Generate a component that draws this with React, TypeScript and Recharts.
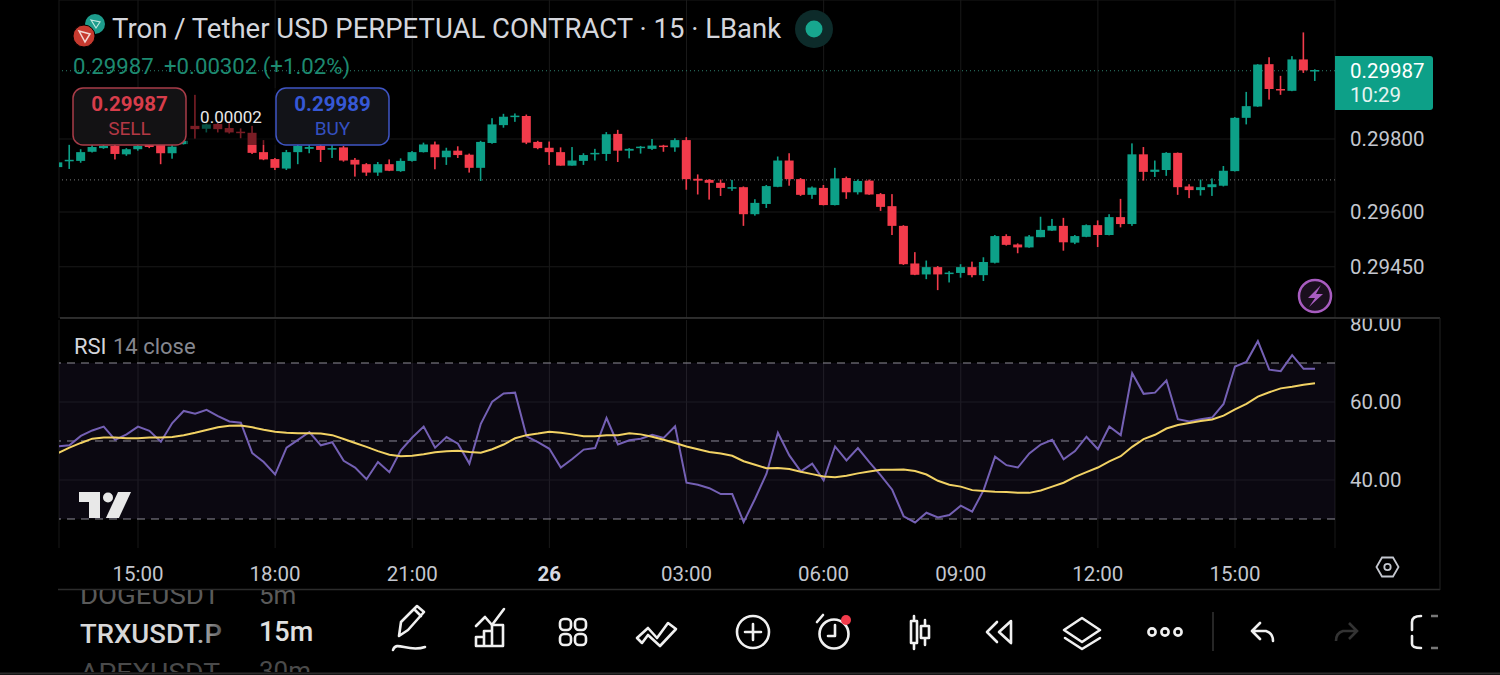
import { Bar, CartesianGrid, ComposedChart, Line, ReferenceArea, ReferenceLine, XAxis, YAxis } from "recharts";

// 15m TRXUSDT.P candles
const opens = [
  0.29723, 0.2974, 0.2974, 0.29765, 0.29775, 0.29781, 0.29758, 0.29772, 0.29784, 0.29784, 0.29761, 0.29786,
  0.29836, 0.29828, 0.29841, 0.2983, 0.2982, 0.29817, 0.29764, 0.29745, 0.29719, 0.29764, 0.29773, 0.29781,
  0.29773, 0.29777, 0.29743, 0.29731, 0.29708, 0.29731, 0.29712, 0.2974, 0.29764, 0.29785, 0.2975, 0.29768,
  0.29757, 0.29721, 0.29789, 0.29838, 0.29861, 0.29863, 0.29792, 0.29776, 0.29764, 0.29727, 0.2974, 0.29761,
  0.29759, 0.29814, 0.29768, 0.29777, 0.29773, 0.29782, 0.29777, 0.29797, 0.29691, 0.29688, 0.2968, 0.29666,
  0.29668, 0.29594, 0.29622, 0.29669, 0.29741, 0.2969, 0.29647, 0.29666, 0.29619, 0.29693, 0.29654, 0.29686,
  0.29649, 0.29616, 0.29562, 0.29459, 0.29429, 0.29449, 0.29431, 0.29433, 0.29449, 0.29427, 0.29461, 0.29534,
  0.29511, 0.29503, 0.29531, 0.29549, 0.29562, 0.29516, 0.29532, 0.29564, 0.29537, 0.29586, 0.29567, 0.29758,
  0.2971, 0.29715, 0.29762, 0.2967, 0.2966, 0.29668, 0.29672, 0.29712, 0.29858, 0.29889, 0.30005, 0.29937,
  0.29932, 0.30018, 0.29987,
];
const closes = [
  0.29736, 0.29743, 0.29764, 0.29778, 0.29781, 0.29759, 0.29772, 0.29781, 0.29778, 0.29761, 0.29779, 0.29795,
  0.29827, 0.2984, 0.29827, 0.29818, 0.29817, 0.29762, 0.29744, 0.29721, 0.29764, 0.29781, 0.29778, 0.2977,
  0.29775, 0.29741, 0.2973, 0.29708, 0.29731, 0.29713, 0.2974, 0.29764, 0.29785, 0.2975, 0.29768, 0.29756,
  0.29721, 0.29792, 0.2984, 0.29861, 0.29864, 0.2979, 0.29775, 0.29764, 0.29727, 0.29741, 0.29756, 0.29762,
  0.29813, 0.29768, 0.29773, 0.29779, 0.29782, 0.29778, 0.29797, 0.2969, 0.29686, 0.2968, 0.29666, 0.29668,
  0.29594, 0.29625, 0.29671, 0.29741, 0.2969, 0.29647, 0.29667, 0.29619, 0.29692, 0.29654, 0.29685, 0.29648,
  0.29614, 0.29562, 0.29457, 0.29428, 0.29449, 0.29429, 0.29434, 0.29449, 0.29427, 0.29463, 0.29534, 0.2951,
  0.29503, 0.29533, 0.29551, 0.29562, 0.29517, 0.29534, 0.29564, 0.29537, 0.29586, 0.29567, 0.29758, 0.2971,
  0.29716, 0.29762, 0.29668, 0.2966, 0.29668, 0.29676, 0.29713, 0.29858, 0.2989, 0.30004, 0.29937, 0.29933,
  0.30018, 0.29988, 0.29989,
];
const highs = [
  0.29742, 0.29784, 0.29772, 0.29784, 0.29786, 0.29784, 0.29775, 0.29784, 0.29789, 0.29786, 0.29784, 0.29798,
  0.29921, 0.29842, 0.29844, 0.29844, 0.29829, 0.29836, 0.29797, 0.29748, 0.2977, 0.29784, 0.29784, 0.29784,
  0.29784, 0.29781, 0.29748, 0.29734, 0.29737, 0.29744, 0.29747, 0.29767, 0.2979, 0.29793, 0.29776, 0.2978,
  0.2976, 0.29795, 0.29857, 0.29869, 0.2987, 0.29867, 0.29795, 0.29793, 0.29777, 0.29778, 0.29761, 0.29773,
  0.29819, 0.29825, 0.29775, 0.29781, 0.298, 0.29784, 0.29802, 0.29805, 0.29703, 0.2969, 0.29689, 0.29688,
  0.2967, 0.29635, 0.29674, 0.29752, 0.29761, 0.29693, 0.2967, 0.29674, 0.29721, 0.29697, 0.29689, 0.29689,
  0.29652, 0.29649, 0.29564, 0.2949, 0.29467, 0.29452, 0.29438, 0.29457, 0.29464, 0.29476, 0.29537, 0.29539,
  0.29514, 0.29537, 0.29587, 0.29581, 0.29584, 0.29537, 0.29566, 0.29577, 0.29594, 0.29636, 0.29788, 0.29778,
  0.29741, 0.29764, 0.29763, 0.29676, 0.29689, 0.29692, 0.29726, 0.2986, 0.29929, 0.30005, 0.30024, 0.29973,
  0.30027, 0.30092, 0.29991,
];
const lows = [
  0.29721, 0.29718, 0.29735, 0.29763, 0.29773, 0.29744, 0.29754, 0.29768, 0.29775, 0.29731, 0.29746, 0.29785,
  0.29801, 0.29818, 0.29818, 0.29815, 0.29802, 0.29759, 0.29742, 0.29715, 0.29715, 0.29731, 0.29761, 0.29737,
  0.29748, 0.29738, 0.29697, 0.29699, 0.29699, 0.29712, 0.2971, 0.29738, 0.29763, 0.29717, 0.29729, 0.29748,
  0.29708, 0.29685, 0.29787, 0.29831, 0.29847, 0.29786, 0.29772, 0.29729, 0.29727, 0.29727, 0.29729, 0.29741,
  0.2974, 0.29737, 0.29747, 0.2976, 0.2977, 0.29765, 0.29765, 0.29661, 0.29648, 0.29634, 0.29644, 0.29658,
  0.29562, 0.2959, 0.29611, 0.29668, 0.29672, 0.29644, 0.29636, 0.29618, 0.29618, 0.29636, 0.29648, 0.29647,
  0.29603, 0.29537, 0.29455, 0.29427, 0.29416, 0.29386, 0.29407, 0.2942, 0.29421, 0.29411, 0.29459, 0.29508,
  0.29487, 0.29502, 0.29531, 0.29548, 0.29494, 0.29512, 0.29531, 0.29504, 0.29536, 0.29558, 0.29562, 0.29686,
  0.29696, 0.29699, 0.29647, 0.29638, 0.29645, 0.29644, 0.2967, 0.29711, 0.2984, 0.29888, 0.29908, 0.29921,
  0.29931, 0.29981, 0.29959,
];
const rsi = [
  48.6, 48.9, 51.3, 52.7, 53.7, 50.3, 51.7, 53.7, 52.6, 49.8, 54.6, 57.7, 57.0, 58.0, 56.4, 55.0, 54.7, 46.9, 44.6,
  41.4, 48.3, 50.3, 52.3, 48.9, 49.7, 44.9, 43.2, 40.2, 44.6, 42.0, 47.6, 50.9, 53.7, 48.3, 51.0, 49.3, 44.2, 54.4,
  60.1, 62.2, 62.4, 51.2, 49.7, 48.0, 43.2, 45.4, 47.8, 48.2, 55.9, 49.1, 50.2, 50.6, 51.6, 50.8, 53.8, 39.3, 38.8,
  37.9, 36.4, 36.4, 29.2, 35.2, 41.6, 52.1, 46.3, 42.2, 44.2, 39.9, 48.6, 45.0, 48.2, 44.6, 41.2, 37.5, 30.7, 29.1,
  31.6, 30.4, 31.0, 33.4, 31.9, 37.4, 46.0, 43.8, 43.2, 46.8, 49.1, 50.3, 45.3, 47.4, 51.1, 47.9, 53.7, 51.5, 67.4,
  62.1, 62.4, 65.5, 55.6, 55.0, 55.6, 56.0, 59.5, 69.1, 70.3, 75.6, 68.3, 67.9, 72.0, 68.5, 68.5,
];
const rsiMa = [
  46.9, 48.3, 49.5, 50.6, 50.9, 50.9, 50.7, 50.7, 50.9, 50.9, 51.0, 51.5, 52.1, 52.8, 53.5, 53.9, 54.0, 53.5, 52.9,
  52.4, 52.1, 52.0, 52.0, 51.9, 51.5, 50.5, 49.5, 48.5, 47.4, 46.5, 46.1, 46.2, 46.6, 47.1, 47.4, 47.5, 47.2, 47.0,
  47.9, 49.1, 50.7, 51.5, 51.9, 52.4, 52.1, 51.7, 51.2, 51.2, 51.5, 51.5, 52.0, 51.7, 51.1, 50.3, 49.5, 48.6, 47.9,
  47.2, 46.8, 46.2, 44.8, 43.9, 43.0, 43.1, 42.8, 42.1, 41.5, 40.9, 40.7, 41.1, 41.7, 42.2, 42.6, 42.6, 42.7, 42.3,
  41.4, 39.8, 38.8, 38.3, 37.4, 37.2, 37.0, 36.9, 36.7, 36.7, 37.3, 38.3, 39.3, 40.8, 42.0, 43.2, 44.8, 46.1, 48.5,
  50.5, 51.6, 53.2, 54.1, 54.6, 55.1, 55.5, 56.5, 58.1, 59.5, 61.4, 62.5, 63.5, 63.9, 64.4, 64.8,
];

// bar index of every time label
const timeTicks = [7, 19, 31, 43, 55, 67, 79, 91, 103];
const timeLabels = ["15:00", "18:00", "21:00", "26", "03:00", "06:00", "09:00", "12:00", "15:00"];
const priceTicks = [0.298, 0.296, 0.2945];
const rsiTicks = [80, 60, 40];
const rsiGrid = [60, 40];
const rsiBands = [70, 50, 30];

const data = opens.map((open, i) => ({
  idx: i,
  open,
  close: closes[i],
  high: highs[i],
  low: lows[i],
  rsi: rsi[i],
  rsiMa: rsiMa[i],
}));

const UP = "#0da088";
const DOWN = "#f23b4b";
const GRID = "#191919";
const TEXT = "#c4c7cf";
const FONT = "Roboto, sans-serif";
const xDomain: [number, number] = [0.087, 111.75];

function Candle(props: any) {
  const { x, y, width, height, payload } = props;
  const { open, close, high, low } = payload;
  const top = Math.min(y, y + height);
  const perPrice = Math.abs(height) / (high - low);
  const bodyTop = top + (high - Math.max(open, close)) * perPrice;
  const bodyHeight = Math.max(Math.abs(open - close) * perPrice, 1.5);
  const color = close >= open ? UP : DOWN;
  return (
    <g>
      <rect x={x + width / 2 - 0.8} y={top} width={1.6} height={Math.abs(height)} fill={color} />
      <rect x={x} y={bodyTop} width={width} height={bodyHeight} fill={color} />
    </g>
  );
}

function TimeTick({ x, y, payload }: any) {
  const i = timeTicks.indexOf(payload.value);
  const label = timeLabels[i];
  return (
    <text x={x} y={y + 25} textAnchor="middle" fontFamily={FONT} fontSize={20.5} fill={label === "26" ? "#d8dae0" : TEXT} fontWeight={label === "26" ? 700 : 400}>
      {label}
    </text>
  );
}

function PriceChart() {
  return (
    <ComposedChart width={1500} height={318} data={data} margin={{ top: 0, right: 0, bottom: 0, left: 59 }} style={{ position: "absolute", left: 0, top: 0 }}>
      <CartesianGrid stroke={GRID} />
      <XAxis dataKey="idx" type="number" domain={xDomain} allowDataOverflow hide ticks={timeTicks} />
      <YAxis
        orientation="right"
        width={165}
        domain={[0.293096, 0.301808]}
        allowDataOverflow
        ticks={priceTicks}
        interval={0}
        tickFormatter={(v: number) => v.toFixed(5)}
        tickSize={0}
        tickMargin={15}
        tickLine={false}
        axisLine={false}
        tick={{ fill: TEXT, fontSize: 20.5, fontFamily: FONT }}
      />
      <ReferenceLine y={0.29987} stroke="#2f7f6f" strokeDasharray="1 3" zIndex={0} />
      <ReferenceLine y={0.29688} stroke="#777" strokeDasharray="1 3" zIndex={0} />
      <Bar dataKey={(d: any) => [d.low, d.high]} barSize={9} shape={<Candle />} isAnimationActive={false} />
    </ComposedChart>
  );
}

function RsiChart() {
  return (
    <ComposedChart width={1500} height={272} data={data} margin={{ top: 2, right: 0, bottom: 0, left: 59 }} style={{ position: "absolute", left: 0, top: 318 }}>
      <CartesianGrid stroke={GRID} horizontal={false} />
      <XAxis
        dataKey="idx"
        type="number"
        domain={xDomain}
        allowDataOverflow
        ticks={timeTicks}
        height={42}
        axisLine={false}
        tickLine={false}
        interval={0}
        tick={<TimeTick />}
      />
      <YAxis
        orientation="right"
        width={165}
        domain={[22.56, 81.03]}
        allowDataOverflow
        ticks={rsiTicks}
        interval={0}
        tickFormatter={(v: number) => v.toFixed(2)}
        tickSize={0}
        tickMargin={15}
        tickLine={false}
        axisLine={false}
        tick={{ fill: TEXT, fontSize: 20.5, fontFamily: FONT }}
      />
      <ReferenceArea y1={30} y2={70} fill="#7e57c2" fillOpacity={0.09} stroke="none" />
      {rsiGrid.map((v) => (
        <ReferenceLine key={v} y={v} stroke="#1d1a24" />
      ))}
      {rsiBands.map((v) => (
        <ReferenceLine key={v} y={v} stroke="#8f8f94" strokeDasharray="8 6" zIndex={0} />
      ))}
      <Line dataKey="rsi" stroke="#7460b4" strokeWidth={2} dot={false} isAnimationActive={false} />
      <Line dataKey="rsiMa" stroke="#f2d264" strokeWidth={2} dot={false} isAnimationActive={false} />
    </ComposedChart>
  );
}

// header, order buttons, last price tag and toolbar
function Overlay() {
  const icon = { fill: "none", stroke: "#f0f0f0", strokeWidth: 2.6, strokeLinecap: "round" as const, strokeLinejoin: "round" as const };
  return (
    <svg width={1500} height={675} style={{ position: "absolute", left: 0, top: 0 }} fontFamily={FONT}>
      <defs>
        <clipPath id="logoClip">
          <rect x={70} y={485} width={70} height={33} />
        </clipPath>
        <clipPath id="symClip">
          <rect x={60} y={590} width={300} height={82} />
        </clipPath>
        <linearGradient id="symFade" x1="0" x2="1" y1="0" y2="0">
          <stop offset="0.8" stopColor="#d8d8d8" />
          <stop offset="1" stopColor="#555" />
        </linearGradient>
      </defs>

      <circle cx={95} cy={24} r={10} fill="#1d9c8c" />
      <circle cx={84} cy={36} r={11} fill="#c63a2f" stroke="#000" strokeWidth={1} />
      <path d="M79 31 L90 34 L85 42 Z" fill="none" stroke="#f3d8d4" strokeWidth={1.5} />
      <path d="M91 20 L100 22 L96 28 Z" fill="none" stroke="#bfe8e0" strokeWidth={1.2} />
      <text x={112} y={38} fontSize={27.5} fill="#d4d6dc">
        Tron / Tether USD PERPETUAL CONTRACT · 15 · LBank
      </text>
      <circle cx={814} cy={29} r={19} fill="#0d2b2a" />
      <circle cx={814} cy={29} r={8.5} fill="#17a78f" />

      <text x={73} y={74} fontSize={22.2} fill="#1d8a70">
        0.29987
      </text>
      <text x={164} y={74} fontSize={22.2} fill="#1d8a70">
        +0.00302 (+1.02%)
      </text>

      <rect x={186} y={88} width={90} height={57} fill="#000" fillOpacity={0.5} />
      <rect x={73} y={88} width={113} height={57} rx={10} fill="#131214" stroke="#a83c48" strokeWidth={1.5} />
      <text x={129.5} y={111} textAnchor="middle" fontSize={20.5} fontWeight={700} fill="#d83d4b">
        0.29987
      </text>
      <text x={129.5} y={135} textAnchor="middle" fontSize={19} fill="#b33844">
        SELL
      </text>
      <text x={231} y={123} textAnchor="middle" fontSize={17} fill="#e8e8e8">
        0.00002
      </text>
      <rect x={276} y={88} width={113} height={57} rx={10} fill="#121318" stroke="#3f55c4" strokeWidth={1.5} />
      <text x={332.5} y={111} textAnchor="middle" fontSize={20.5} fontWeight={700} fill="#3658d6">
        0.29989
      </text>
      <text x={332.5} y={135} textAnchor="middle" fontSize={19} fill="#3450c0">
        BUY
      </text>

      <path d="M1335 56 H1430 a3 3 0 0 1 3 3 V107 a3 3 0 0 1 -3 3 H1335 Z" fill="#0da088" />
      <text x={1350} y={78} fontSize={20.5} fill="#fff">
        0.29987
      </text>
      <text x={1350} y={102} fontSize={20.5} fill="#e6f4f1">
        10:29
      </text>

      <circle cx={1315} cy={296} r={16} fill="#1a0f1e" stroke="#a85cc0" strokeWidth={2.5} />
      <path d="M1321 285 L1308 298 H1315 L1309 307 L1323 294 H1316 Z" fill="#a85cc0" />

      <line x1={60} x2={1440} y1={318} y2={318} stroke="#3a3a3a" strokeWidth={1.5} />
      <line x1={58} x2={1440} y1={589.5} y2={589.5} stroke="#2c2c2c" strokeWidth={1.5} />
      <line x1={1440} x2={1440} y1={318} y2={590} stroke="#222" />
      <line x1={0} x2={1500} y1={673.5} y2={673.5} stroke="#2a2a2a" strokeWidth={2} />

      <text x={74} y={354} fontSize={22} fill="#d4d6dc">
        RSI
      </text>
      <text x={113} y={354} fontSize={22} fill="#85878f">
        14 close
      </text>
      <g clipPath="url(#logoClip)" fill="#e8e8e8">
        <path d="M79 492 H100 V520 H89 V502 H79 Z" />
        <circle cx={108} cy={497.5} r={5} />
        <path d="M118 492 H131 L118 520 H105 Z" />
      </g>

      <path d="M1376.5 567 L1382 557.5 H1393 L1398.5 567 L1393 576.5 H1382 Z" fill="none" stroke={TEXT} strokeWidth={1.8} />
      <circle cx={1387.5} cy={567} r={3.2} fill="none" stroke={TEXT} strokeWidth={1.8} />

      <g clipPath="url(#symClip)" fontSize={26}>
        <text x={80} y={604} fill="#5a5a5a" textLength={140} lengthAdjust="spacingAndGlyphs">
          DOGEUSDT
        </text>
        <text x={259} y={604} fill="#5a5a5a">
          5m
        </text>
        <text x={80} y={643} fill="url(#symFade)" fontWeight={500} textLength={142} lengthAdjust="spacingAndGlyphs">
          TRXUSDT.P
        </text>
        <text x={259} y={641} fill="#e0e0e0" fontWeight={500} fontSize={27}>
          15m
        </text>
        <text x={80} y={682} fill="#4a4a4a" textLength={140} lengthAdjust="spacingAndGlyphs">
          APEXUSDT
        </text>
        <text x={259} y={680} fill="#4a4a4a">
          30m
        </text>
      </g>

      <g {...icon}>
        {/* draw */}
        <path d="M399 636 L401 622 L417 606 L424 612 L408 630 Z M414 609 L421 616" />
        <path d="M393 650 C396 640 408 653 425 647" />
        {/* indicators */}
        <path d="M476 626 L485 617 L492 625 L504 609" />
        <path d="M476 646 V637 H484 V646 Z M484 646 V631 H492 V646 M492 646 V625 H503 V646 H476" />
        {/* layouts */}
        <rect x={560} y={619} width={11} height={11} rx={4} />
        <rect x={575} y={619} width={11} height={11} rx={4} />
        <rect x={560} y={634} width={11} height={11} rx={4} />
        <rect x={575} y={634} width={11} height={11} rx={4} />
        {/* chevrons */}
        <path d="M637 638 L648 628 L657 638 L668 623 L676 629 L660 646 L648 635 L642 643 Z" />
        {/* add */}
        <circle cx={753} cy={632} r={16} />
        <path d="M745 632 H761 M753 624 V640" />
        {/* alarm */}
        <circle cx={834} cy={634} r={14.5} />
        <path d="M835 625 V636 H828 M817 622 L823 615" />
        {/* candles */}
        <path d="M911 621 H917 V643 H911 Z M914 616 V621 M914 643 V649 M921 626 H929 V638 H921 Z M925 620 V626 M925 638 V645" />
        {/* replay */}
        <path d="M997 622 L987 632 L997 642 M1011 621 L999 632 L1011 643 Z" />
        {/* layers */}
        <path d="M1082 618 L1100 630 L1082 642 L1064 630 Z M1065 638 L1082 649 L1100 638" />
        {/* more */}
        <circle cx={1152} cy={632} r={3.6} />
        <circle cx={1165} cy={632} r={3.6} />
        <circle cx={1178} cy={632} r={3.6} />
        {/* undo */}
        <path d="M1260 623 L1252 631 L1260 639 M1252 631 H1266 Q1273 633 1273 641" />
        {/* fullscreen */}
        <path d="M1421 616 Q1412 616 1412 622 V630 M1412 636 V644 Q1412 648 1421 648" />
      </g>
      <circle cx={846} cy={620} r={5} fill="#f23b4b" />
      <line x1={1213} x2={1213} y1={612} y2={651} stroke="#333" strokeWidth={1.5} />
      <path d="M1349 623 L1357 631 L1349 639 M1357 631 H1343 Q1336 633 1336 641" fill="none" stroke="#333" strokeWidth={2.6} />
      <path d="M1431 616 H1438 M1431 648 H1438" stroke="#777" strokeWidth={2.6} />
    </svg>
  );
}

export default function App() {
  return (
    <div style={{ position: "fixed", left: 0, top: 0, width: 1500, height: 675, background: "#000", overflow: "hidden" }}>
      <PriceChart />
      <RsiChart />
      <Overlay />
    </div>
  );
}
